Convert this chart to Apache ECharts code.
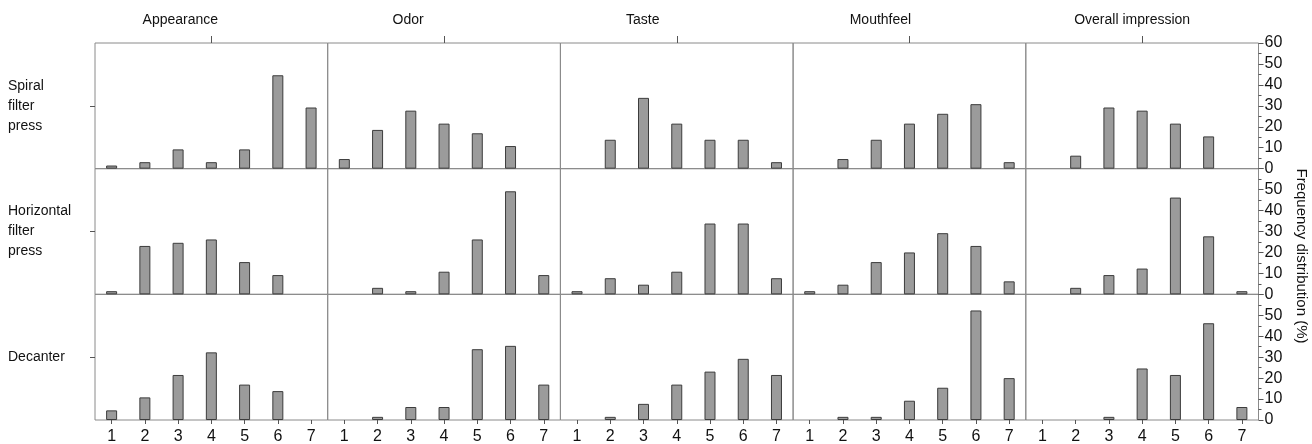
<!DOCTYPE html>
<html>
<head>
<meta charset="utf-8">
<title>Frequency distribution by separation method</title>
<script src="https://cdn.jsdelivr.net/npm/echarts@6/dist/echarts.min.js"></script>
<style>
  html, body { margin: 0; padding: 0; background: #fff; }
  #chart { width: 1312px; height: 444px; }
</style>
</head>
<body>
<div id="chart"></div>
<script>
// Hedonic score categories (7-point scale)
const categories = ['1', '2', '3', '4', '5', '6', '7'];
// Sensory attributes (columns)
const attributes = ['Appearance', 'Odor', 'Taste', 'Mouthfeel', 'Overall impression'];
// Separation methods (rows)
const methods = ['Spiral\nfilter\npress', 'Horizontal\nfilter\npress', 'Decanter'];
// Right-hand axis ticks (%)
const yTicks = [0, 10, 20, 30, 40, 50, 60];

// Frequency distribution (%) per attribute, one array per method
const spiralFilterPress = [
  [1.5, 3.1, 9.2, 3.1, 9.2, 44.6, 29.2],
  [4.6, 18.5, 27.7, 21.5, 16.9, 10.8, 0],
  [0, 13.8, 33.8, 21.5, 13.8, 13.8, 3.1],
  [0, 4.6, 13.8, 21.5, 26.2, 30.8, 3.1],
  [0, 6.2, 29.2, 27.7, 21.5, 15.4, 0]
];
const horizontalFilterPress = [
  [1.5, 23.1, 24.6, 26.2, 15.4, 9.2, 0],
  [0, 3.1, 1.5, 10.8, 26.2, 49.2, 9.2],
  [1.5, 7.7, 4.6, 10.8, 33.8, 33.8, 7.7],
  [1.5, 4.6, 15.4, 20.0, 29.2, 23.1, 6.2],
  [0, 3.1, 9.2, 12.3, 46.2, 27.7, 1.5]
];
const decanter = [
  [4.6, 10.8, 21.5, 32.3, 16.9, 13.8, 0],
  [0, 1.5, 6.2, 6.2, 33.8, 35.4, 16.9],
  [0, 1.5, 7.7, 16.9, 23.1, 29.2, 21.5],
  [0, 1.5, 1.5, 9.2, 15.4, 52.3, 20.0],
  [0, 0, 1.5, 24.6, 21.5, 46.2, 6.2]
];
const methodData = [spiralFilterPress, horizontalFilterPress, decanter];

const FONT = "'Liberation Sans', Arial, sans-serif";
const LINE = '#8a8a8a';
const TICK = '#555';

const plotLeft = 95, plotRight = 1258.5, plotTop = 43, plotBottom = 420;
const cellW = (plotRight - plotLeft) / attributes.length;
const cellH = (plotBottom - plotTop) / methods.length;
// column titles sit a little left of each panel's centre tick (px)
const titleShift = [31, 36, 34, 29, 10];

const grids = [], xAxes = [], yAxes = [], series = [];

methods.forEach((method, r) => {
  attributes.forEach((attr, c) => {
    const g = grids.length;
    grids.push({
      left: plotLeft + c * cellW,
      top: plotTop + r * cellH,
      width: cellW,
      height: cellH,
      show: true,
      borderColor: LINE,
      borderWidth: 1,
      backgroundColor: 'transparent',
      containLabel: false,
      outerBoundsMode: 'none'
    });

    // score axis along the bottom of each panel
    const xi = xAxes.length;
    xAxes.push({
      type: 'category',
      gridIndex: g,
      position: 'bottom',
      data: categories,
      boundaryGap: true,
      axisLine: { show: false },
      axisTick: { show: r === methods.length - 1, alignWithLabel: true, length: 4, lineStyle: { color: TICK } },
      axisLabel: { show: r === methods.length - 1, fontSize: 16, fontFamily: FONT, color: '#111', margin: 9, interval: 0 },
      splitLine: { show: false }
    });

    // attribute titles above the first row
    if (r === 0) {
      xAxes.push({
        type: 'category',
        gridIndex: g,
        position: 'top',
        data: [attr],
        boundaryGap: true,
        axisLine: { show: false },
        axisTick: { show: true, alignWithLabel: true, length: 7, lineStyle: { color: TICK } },
        axisLabel: {
          show: true, fontSize: 14, fontFamily: FONT, color: '#111', margin: 16,
          padding: [0, titleShift[c] * 2, 0, 0]
        },
        splitLine: { show: false }
      });
    }

    // frequency axis, labelled on the right-most column
    const yi = yAxes.length;
    const showRight = c === attributes.length - 1;
    yAxes.push({
      type: 'value',
      gridIndex: g,
      position: 'right',
      min: yTicks[0],
      max: yTicks[yTicks.length - 1],
      interval: yTicks[1] - yTicks[0],
      show: showRight,
      axisLine: { show: false },
      axisTick: { show: true, length: 5, lineStyle: { color: TICK } },
      minorTick: { show: true, splitNumber: 2, length: 3, lineStyle: { color: TICK } },
      axisLabel: {
        show: true, fontSize: 16, fontFamily: FONT, color: '#111', margin: 6,
        showMaxLabel: r === 0
      },
      splitLine: { show: false },
      minorSplitLine: { show: false }
    });

    // method labels on the left of the first column
    if (c === 0) {
      yAxes.push({
        type: 'category',
        gridIndex: g,
        position: 'left',
        data: [method],
        boundaryGap: true,
        axisLine: { show: false },
        axisTick: { show: true, alignWithLabel: true, length: 5, lineStyle: { color: TICK } },
        axisLabel: {
          show: true, fontSize: 14, fontFamily: FONT, color: '#111',
          align: 'left', margin: 87, lineHeight: 20
        },
        splitLine: { show: false }
      });
    }

    // empty scores draw no bar
    series.push({
      type: 'bar',
      name: method.replace(/\n/g, ' ') + ' - ' + attr,
      xAxisIndex: xi,
      yAxisIndex: yi,
      data: methodData[r][c].map(v => (v === 0 ? '-' : v)),
      barWidth: 11,
      silent: true,
      animation: false,
      itemStyle: { color: '#9b9b9b', borderColor: '#3c3c3c', borderWidth: 1 }
    });
  });
});

const chart = echarts.init(document.getElementById('chart'), null, { renderer: 'canvas' });
chart.setOption({
  animation: false,
  backgroundColor: '#ffffff',
  textStyle: { fontFamily: FONT },
  grid: grids,
  xAxis: xAxes,
  yAxis: yAxes,
  series: series,
  graphic: [{
    type: 'text',
    x: 1301,
    y: 256,
    rotation: -Math.PI / 2,
    style: {
      text: 'Frequency distribution (%)',
      font: '15px ' + FONT,
      fill: '#111',
      align: 'center',
      verticalAlign: 'middle'
    }
  }]
});
</script>
</body>
</html>
